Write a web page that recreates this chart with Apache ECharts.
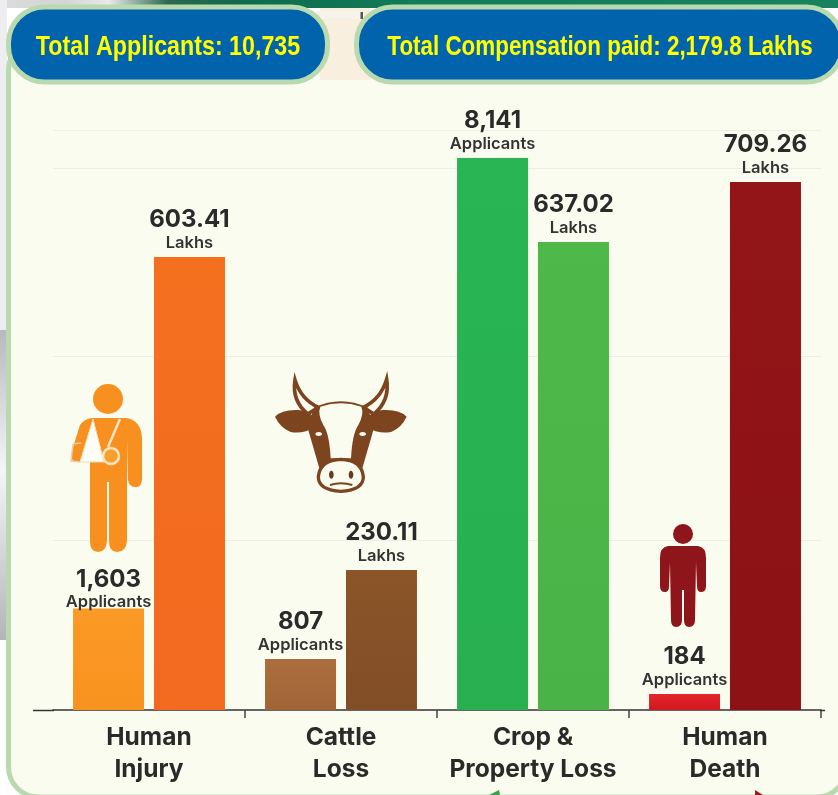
<!DOCTYPE html>
<html>
<head>
<meta charset="utf-8">
<style>html,body{margin:0;padding:0;background:#fff}#chart{width:838px;height:795px}</style>
<script src="https://cdn.jsdelivr.net/npm/echarts@6/dist/echarts.min.js"></script>
</head>
<body>
<div id="chart"></div>
<script>
// Category names
const categories = ['Human\nInjury', 'Cattle\nLoss', 'Crop &\nProperty Loss', 'Human\nDeath'];
// Figures printed above the bars
const applicantsPrinted = ['1,603', '807', '8,141', '184'];
const lakhsPrinted = ['603.41', '230.11', '637.02', '709.26'];
// Bar levels: the source bars are not drawn strictly
// in proportion to their printed figures, so the level is kept apart from them.
const applicantLevels = [1497, 752, 8141, 236];
const lakhLevels = [608.5, 188, 628.6, 709.26];
// Faint horizontal rules, in applicant-axis units
const gridLevels = [2507, 5220, 7992, 8553];
const applicantAxisMax = 8700;
const lakhAxisMax = 792.5;
// Headline pills
const totalApplicantsText = 'Total Applicants: 10,735';
const totalCompensationText = 'Total Compensation paid: 2,179.8 Lakhs';

const applicantColors = [['#fb9a26', '#f9921f'], ['#ac6e3e', '#a06436'], ['#29b553', '#28b050'], ['#e4262b', '#cf191f']];
const lakhColors = [['#f4701f', '#f26a20'], ['#8b5529', '#824e27'], ['#4fb84b', '#4ab347'], ['#931518', '#8c1215']];

const CREAM = '#fbfcf0', BORDER = '#b9d9ae', BLUE = '#0063ac', YELLOW = '#ffff00';
const INK = '#2a2a2a', FONT = 'Inter, "Noto Sans", sans-serif';
const PILL_FONT = '700 28px "Liberation Sans", sans-serif';
const grad = c => ({type: 'linear', x: 0, y: 0, x2: 0, y2: 1, colorStops: [{offset: 0, color: c[0]}, {offset: 1, color: c[1]}]});

let shapeCount = 0;
function iconPath(pathData, style, z) {
  const name = 'iconPath' + (shapeCount++);
  echarts.graphic.registerShape(name, echarts.graphic.extendPath(pathData));
  return {type: name, z: z || 3, style};
}

function barLabel(printed, unit) {
  return {
    show: true, position: 'top', distance: 4,
    formatter: p => `{v|${printed[p.dataIndex]}}\n{u|${unit}}`,
    rich: {
      v: {fontFamily: FONT, fontSize: 24, fontWeight: 700, color: INK, lineHeight: 26, align: 'center'},
      u: {fontFamily: FONT, fontSize: 16.5, fontWeight: 600, color: '#333', lineHeight: 20, align: 'center'}
    }
  };
}

const cowColor = '#7d4420';
const decorations = [
  // outer backdrop
  {type: 'rect', z: 0, shape: {x: 0, y: 0, width: 838, height: 8}, style: {fill: {type: 'linear', x: 0, y: 0, x2: 1, y2: 0, colorStops: [
    {offset: 0, color: '#dcdcdc'}, {offset: 0.08, color: '#d4d4d4'}, {offset: 0.13, color: '#e8eae8'}, {offset: 0.2, color: '#2c6a50'},
    {offset: 0.28, color: '#0d6a4a'}, {offset: 0.5, color: '#127c58'}, {offset: 1, color: '#17835e'}]}}},
  {type: 'rect', z: 0, shape: {x: 0, y: 0, width: 7, height: 330}, style: {fill: '#eeeef0'}},
  {type: 'rect', z: 0, shape: {x: 0, y: 330, width: 7, height: 310}, style: {fill: {type: 'linear', x: 0, y: 0, x2: 0, y2: 1, colorStops: [
    {offset: 0, color: '#b9b9bd'}, {offset: 0.45, color: '#f5f5f8'}, {offset: 1, color: '#b5b5b8'}]}}},
  // panel
  {type: 'rect', z: 0, shape: {x: 8.5, y: 40, width: 838, height: 757, r: 30}, style: {fill: CREAM, stroke: BORDER, lineWidth: 5}},
  {type: 'rect', z: 0, shape: {x: 320, y: 8, width: 50, height: 72}, style: {fill: '#f8efdf'}},
  {type: 'rect', z: 0, shape: {x: 316, y: 11, width: 48, height: 8}, style: {fill: '#f6f3ea'}},
  {type: 'rect', z: 0, shape: {x: 360.5, y: 12, width: 2.5, height: 7}, style: {fill: '#555'}},
  // headline pills
  {type: 'rect', z: 1, shape: {x: 8.5, y: 7, width: 319, height: 75, r: 36}, style: {fill: BLUE, stroke: BORDER, lineWidth: 5}},
  {type: 'rect', z: 1, shape: {x: 356.5, y: 7, width: 486, height: 75, r: 36}, style: {fill: BLUE, stroke: BORDER, lineWidth: 5}},
  {type: 'text', z: 2, x: 168, y: 47, scaleX: 0.83, style: {text: totalApplicantsText, fill: YELLOW, font: PILL_FONT, textAlign: 'center', textVerticalAlign: 'middle'}},
  {type: 'text', z: 2, x: 600, y: 47, scaleX: 0.80, style: {text: totalCompensationText, fill: YELLOW, font: PILL_FONT, textAlign: 'center', textVerticalAlign: 'middle'}},
  // axis line extensions
  {type: 'line', z: 3, shape: {x1: 33, y1: 710.5, x2: 54, y2: 710.5}, style: {stroke: '#333', lineWidth: 1.5}},
  {type: 'line', z: 3, shape: {x1: 820, y1: 710.5, x2: 825, y2: 710.5}, style: {stroke: '#333', lineWidth: 1.5}},
  // peeking arrow tips at the bottom edge
  {type: 'polygon', z: 1, shape: {points: [[489, 795], [499, 790], [500, 795]]}, style: {fill: '#3aa24a'}},
  {type: 'polygon', z: 1, shape: {points: [[755, 790], [763, 795], [755, 795]]}, style: {fill: '#a3181c'}},
  // injured person
  {type: 'circle', z: 3, shape: {cx: 108, cy: 399, r: 15}, style: {fill: '#f8901f'}},
  iconPath('M92 418 L126 418 Q141 420 142 438 L142 480 Q141 488 135 487 Q129 487 128 480 L127 440 L127 541 Q126 552 117 552 Q109 552 109 541 L109 482 L107 482 L107 541 Q106 552 98 552 Q90 552 90 541 L90 462 L73 462 Q70 455 74 444 L80 425 Q84 419 92 418 Z', {fill: '#f8901f'}),
  {type: 'polygon', z: 4, shape: {points: [[93, 419], [104, 462], [80, 462]]}, style: {fill: '#fdfdf6', stroke: '#f3dcb4', lineWidth: 1}},
  {type: 'line', z: 4, shape: {x1: 120, y1: 419, x2: 108, y2: 447}, style: {stroke: '#f6e5c4', lineWidth: 2.5}},
  {type: 'circle', z: 4, shape: {cx: 111, cy: 456, r: 8}, style: {fill: '#f8a02e', stroke: '#f6e5c4', lineWidth: 2.5}},
  {type: 'polyline', z: 4, shape: {points: [[81, 443], [73, 444], [71, 461], [80, 462]]}, style: {fill: 'none', stroke: '#e9cfa8', lineWidth: 1.5}},
  // cow head
  {type: 'group', x: 265, y: 370, scaleX: 1 / 3, scaleY: 1 / 3, children: [
    iconPath('M30 140 Q50 118 100 120 Q125 122 140 135 L152 170 Q110 195 75 185 Q45 172 30 140 Z', {fill: cowColor}),
    iconPath('M425 140 Q405 118 355 120 Q330 122 315 135 L303 170 Q345 195 380 185 Q410 172 425 140 Z', {fill: cowColor}),
    iconPath('M90 30 Q80 92 128 132 L160 112 Q108 88 90 30 Z', {fill: CREAM, stroke: cowColor, lineWidth: 11}),
    iconPath('M365 28 Q375 92 327 132 L295 112 Q347 88 365 28 Z', {fill: CREAM, stroke: cowColor, lineWidth: 11}),
    iconPath('M148 112 Q228 76 307 112 L328 170 L292 295 L163 295 L127 170 Z', {fill: cowColor}),
    iconPath('M166 110 Q228 90 289 110 Q298 132 280 165 Q262 190 258 265 L197 265 Q193 190 175 165 Q157 132 166 110 Z', {fill: CREAM}),
    {type: 'ellipse', z: 3, shape: {cx: 161, cy: 192, rx: 10, ry: 6}, style: {fill: CREAM}},
    {type: 'ellipse', z: 3, shape: {cx: 293, cy: 192, rx: 10, ry: 6}, style: {fill: CREAM}},
    iconPath('M160 320 Q165 270 228 268 Q290 270 295 320 Q295 360 228 364 Q160 360 160 320 Z', {fill: CREAM, stroke: cowColor, lineWidth: 10}),
    {type: 'ellipse', z: 3, shape: {cx: 199, cy: 314, rx: 7, ry: 12}, style: {fill: '#6b3a1c'}},
    {type: 'ellipse', z: 3, shape: {cx: 258, cy: 314, rx: 7, ry: 12}, style: {fill: '#6b3a1c'}},
    iconPath('M195 345 Q228 335 262 345', {fill: 'none', stroke: cowColor, lineWidth: 6})
  ]},
  // person standing
  {type: 'circle', z: 3, shape: {cx: 683, cy: 534, r: 10}, style: {fill: '#8e1519'}},
  iconPath('M668 546 L698 546 Q706 547 706 558 L706 586 Q706 592 701 592 Q697 592 697 586 L696 562 L695 620 Q695 627 689 627 Q684 627 684 620 L684 590 L682 590 L682 620 Q682 627 676 627 Q671 627 671 620 L670 562 L669 586 Q669 592 665 592 Q660 592 660 586 L660 558 Q660 547 668 546 Z', {fill: '#8e1519'})
];

const chart = echarts.init(document.getElementById('chart'), null, {renderer: 'canvas', width: 838, height: 795});
chart.setOption({
  animation: false,
  backgroundColor: '#ffffff',
  graphic: {elements: decorations},
  grid: {left: 53, right: 17, top: 120, bottom: 85, containLabel: false},
  xAxis: {
    type: 'category', data: categories,
    axisLine: {show: true, lineStyle: {color: '#333', width: 1.5}},
    axisTick: {show: true, length: 8, alignWithLabel: false, lineStyle: {color: '#444', width: 1.5}, interval: i => i > 0},
    axisLabel: {interval: 0, margin: 12, fontFamily: FONT, fontSize: 24.5, fontWeight: 700, lineHeight: 32, color: INK},
    splitLine: {show: false}
  },
  yAxis: [
    {type: 'value', min: 0, max: applicantAxisMax, show: true,
      axisLine: {show: false}, axisLabel: {show: false},
      axisTick: {show: false, customValues: gridLevels},
      splitLine: {show: true, lineStyle: {color: '#eeeee2', width: 1}}},
    {type: 'value', min: 0, max: lakhAxisMax, show: false, splitLine: {show: false}}
  ],
  series: [
    {name: 'Applicants', type: 'bar', yAxisIndex: 0, barWidth: 71, barGap: '14%', z: 2,
      data: applicantLevels.map((v, i) => ({
        value: v,
        itemStyle: {color: grad(applicantColors[i])},
        ...(i === 0 ? {label: {offset: [0, 8]}} : {})
      })),
      label: barLabel(applicantsPrinted, 'Applicants')},
    {name: 'Lakhs', type: 'bar', yAxisIndex: 1, barWidth: 71, barGap: '14%', z: 2,
      data: lakhLevels.map((v, i) => ({value: v, itemStyle: {color: grad(lakhColors[i])}})),
      label: barLabel(lakhsPrinted, 'Lakhs')}
  ]
});
</script>
</body>
</html>
